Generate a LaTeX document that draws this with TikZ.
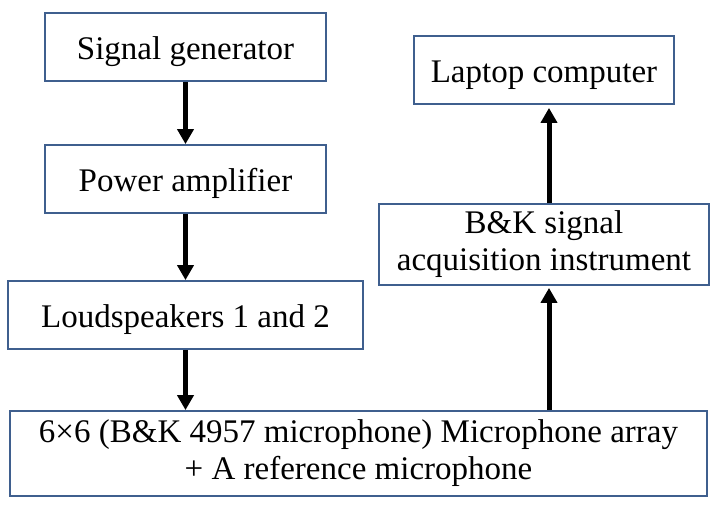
\documentclass[tikz,border=0pt]{standalone}
\usepackage{fontspec}
\setmainfont{Liberation Serif}
\usetikzlibrary{arrows.meta}
\definecolor{boxblue}{HTML}{3F5F8E}
\begin{document}
\begin{tikzpicture}[x=1pt,y=-1pt,
  stage/.style={draw=boxblue, line width=1.8pt, inner sep=0pt, align=center,
    font=\fontsize{33}{37}\selectfont},
  oneline/.style={stage, text height=25pt, text depth=0pt, minimum height=68pt},
  flow/.style={line width=5pt, -{Triangle[width=16pt,length=15pt]}}]
  \useasboundingbox (0,0) rectangle (723,504);
  % left chain
  \node[oneline, minimum width=281pt] (sg) at (185.5,47) {Signal generator};
  \node[oneline, minimum width=281pt] (pa) at (185.5,179) {Power amplifier};
  \node[oneline, minimum width=355pt] (ls) at (185.5,315) {Loudspeakers 1 and 2};
  % microphone array
  \node[stage, minimum width=697pt, minimum height=85pt] (mic) at (358.5,453.5)
    {6×6 (B\&K 4957 microphone) Microphone array\\+ A reference microphone};
  % right chain
  \node[stage, minimum width=330pt, minimum height=81pt] (bk) at (544,244.5)
    {B\&K signal\\acquisition instrument};
  \node[oneline, minimum width=260pt] (lap) at (544,70) {Laptop computer};
  % connectors
  \draw[flow] (sg.south) -- (pa.north);
  \draw[flow] (pa.south) -- (ls.north);
  \draw[flow] (ls.south) -- (mic.north -| ls.south);
  \draw[flow, shorten >=2pt] (mic.north -| 549,0) -- (bk.south -| 549,0);
  \draw[flow, shorten >=3pt] (bk.north -| 549,0) -- (lap.south -| 549,0);
\end{tikzpicture}
\end{document}
